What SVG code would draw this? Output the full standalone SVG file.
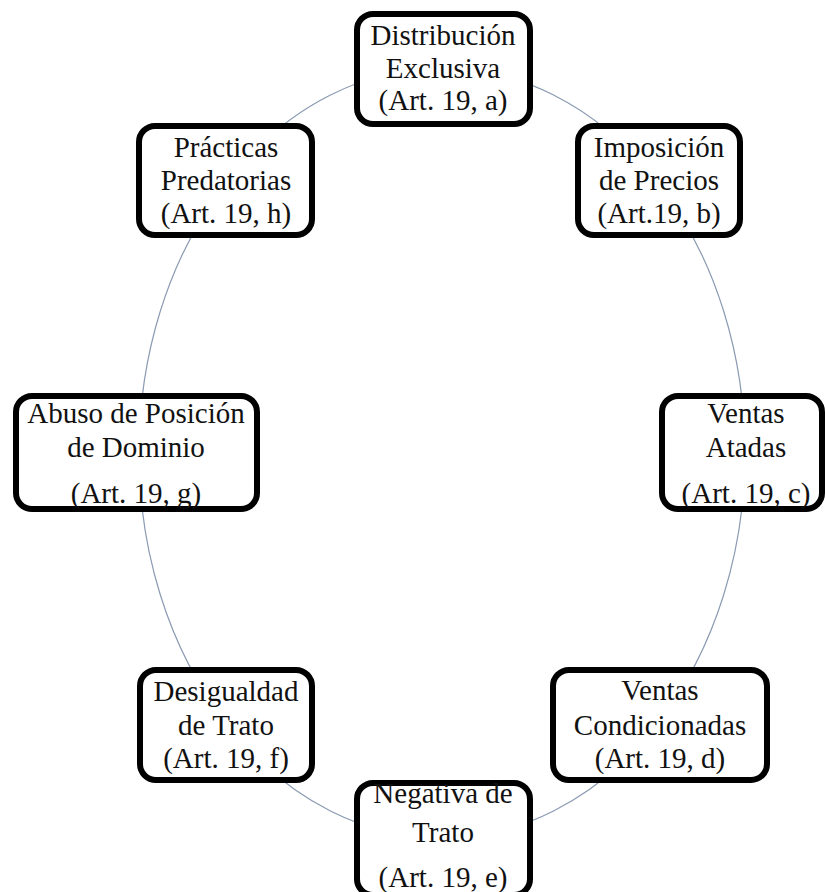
<svg xmlns="http://www.w3.org/2000/svg" width="825" height="892" viewBox="0 0 825 892">
<style>
.box{fill:#fff;stroke:#000;stroke-width:6}
.t{font-family:"Liberation Serif","Times New Roman",serif;font-size:29px;fill:#111;text-anchor:middle}
.conn{fill:none;stroke:#8a9ab2;stroke-width:1.2}
</style>
<rect width="825" height="892" fill="#fff"/>
<g id="connectors">
<ellipse class="conn" cx="442" cy="453" rx="303" ry="385"/>
</g>
<g id="n-a">
<rect class="box" x="357" y="14" width="173" height="110" rx="16"/>
<text class="t" x="443" y="45">Distribución</text>
<text class="t" x="443" y="78">Exclusiva</text>
<text class="t" x="443" y="110">(Art. 19, a)</text>
</g>
<g id="n-b">
<rect class="box" x="578" y="126" width="162" height="109" rx="16"/>
<text class="t" x="659" y="157">Imposición</text>
<text class="t" x="659" y="190">de Precios</text>
<text class="t" x="659" y="223">(Art.19, b)</text>
</g>
<g id="n-c">
<rect class="box" x="662" y="396" width="160" height="113" rx="16"/>
<text class="t" x="746" y="423">Ventas</text>
<text class="t" x="746" y="457">Atadas</text>
<text class="t" x="746" y="503">(Art. 19, c)</text>
</g>
<g id="n-d">
<rect class="box" x="553" y="670" width="214" height="110" rx="16"/>
<text class="t" x="660" y="700">Ventas</text>
<text class="t" x="660" y="735">Condicionadas</text>
<text class="t" x="660" y="768">(Art. 19, d)</text>
</g>
<g id="n-e">
<rect class="box" x="357" y="783" width="173" height="112" rx="16"/>
<text class="t" x="443" y="803">Negativa de</text>
<text class="t" x="443" y="842">Trato</text>
<text class="t" x="443" y="887">(Art. 19, e)</text>
</g>
<g id="n-f">
<rect class="box" x="140" y="670" width="172" height="110" rx="16"/>
<text class="t" x="226" y="701">Desigualdad</text>
<text class="t" x="226" y="735">de Trato</text>
<text class="t" x="226" y="768">(Art. 19, f)</text>
</g>
<g id="n-g">
<rect class="box" x="16" y="396" width="241" height="113" rx="16"/>
<text class="t" x="136" y="423">Abuso de Posición</text>
<text class="t" x="136" y="457">de Dominio</text>
<text class="t" x="136" y="503">(Art. 19, g)</text>
</g>
<g id="n-h">
<rect class="box" x="139" y="126" width="173" height="109" rx="16"/>
<text class="t" x="226" y="157">Prácticas</text>
<text class="t" x="226" y="190">Predatorias</text>
<text class="t" x="226" y="223">(Art. 19, h)</text>
</g>
</svg>
